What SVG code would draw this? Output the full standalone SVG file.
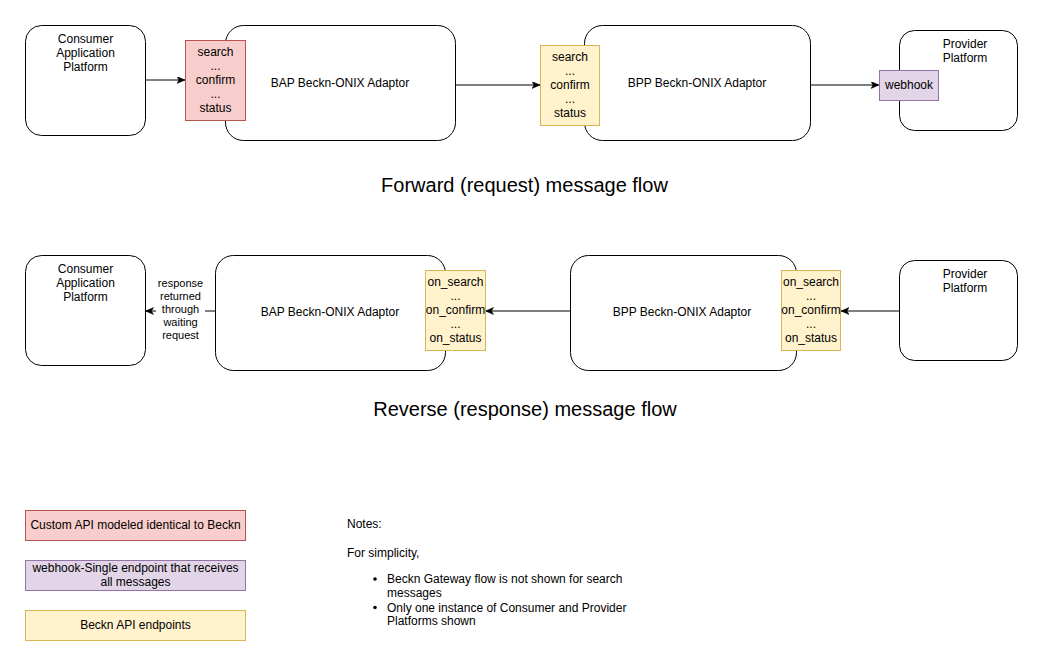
<svg xmlns="http://www.w3.org/2000/svg" width="1051" height="668" viewBox="0 0 1051 668">
<defs>
<style>
text{font-family:"Liberation Sans",Arial,Helvetica,sans-serif;fill:#000;}
.t12{font-size:12px;text-anchor:middle;}
.t11{font-size:11px;text-anchor:middle;}
.n12{font-size:12px;}
.title{font-size:20px;text-anchor:middle;}
.box{fill:#fff;stroke:#000;stroke-width:1;}
.red{fill:#f8cecc;stroke:#b85450;stroke-width:1;}
.purple{fill:#e1d5e7;stroke:#9673a6;stroke-width:1;}
.yellow{fill:#fff2cc;stroke:#d6b656;stroke-width:1;}
.edge{fill:none;stroke:#000;stroke-width:1;marker-end:url(#arrow);}
</style>
<marker id="arrow" markerUnits="userSpaceOnUse" markerWidth="10" markerHeight="8" refX="8" refY="3.5" orient="auto">
<path d="M0,0 L8,3.5 L0,7 L2,3.5 z" fill="#000" stroke="#000" stroke-width="0.5"/>
</marker>
</defs>
<rect width="1051" height="668" fill="#fff"/>

<g id="connectors">
<path class="edge" d="M145.5,80 L185,80"/>
<path class="edge" d="M455.5,85 L540,85"/>
<path class="edge" d="M811,85 L879,85"/>
<path class="edge" d="M215,311 L145.5,311"/>
<path class="edge" d="M570,311 L485.5,311"/>
<path class="edge" d="M899.5,311 L841,311"/>
</g>

<!-- Forward flow -->
<g id="consumer-top">
<rect class="box" x="25.5" y="25.5" width="120" height="110" rx="16" ry="16"/>
<text class="t12" x="85.5" y="43">Consumer</text>
<text class="t12" x="85.5" y="57">Application</text>
<text class="t12" x="85.5" y="71">Platform</text>
</g>
<g id="bap-top">
<rect class="box" x="225.5" y="25.5" width="230" height="115" rx="18" ry="18"/>
<text class="t12" x="340" y="87">BAP Beckn-ONIX Adaptor</text>
</g>
<g id="bap-endpoints-top">
<rect class="red" x="185.5" y="40.5" width="60" height="80"/>
<text class="t12" x="215.5" y="56">search</text>
<text class="t12" x="215.5" y="70">...</text>
<text class="t12" x="215.5" y="84">confirm</text>
<text class="t12" x="215.5" y="98">...</text>
<text class="t12" x="215.5" y="112">status</text>
</g>
<g id="bpp-top">
<rect class="box" x="584.5" y="25.5" width="226" height="115" rx="18" ry="18"/>
<text class="t12" x="697" y="87">BPP Beckn-ONIX Adaptor</text>
</g>
<g id="bpp-endpoints-top">
<rect class="yellow" x="540.5" y="45.5" width="59" height="80"/>
<text class="t12" x="570" y="61">search</text>
<text class="t12" x="570" y="75">...</text>
<text class="t12" x="570" y="89">confirm</text>
<text class="t12" x="570" y="103">...</text>
<text class="t12" x="570" y="117">status</text>
</g>
<g id="provider-top">
<rect class="box" x="899.5" y="30.5" width="118" height="100" rx="15" ry="15"/>
<text class="t12" x="965" y="48">Provider</text>
<text class="t12" x="965" y="62">Platform</text>
</g>
<g id="webhook">
<rect class="purple" x="879.5" y="70.5" width="59" height="30"/>
<text class="t12" x="909" y="89">webhook</text>
</g>
<g id="title-forward">
<text class="title" x="524.5" y="192">Forward (request) message flow</text>
</g>

<!-- Reverse flow -->
<g id="consumer-bottom">
<rect class="box" x="25.5" y="255.5" width="120" height="110" rx="16" ry="16"/>
<text class="t12" x="85.5" y="273">Consumer</text>
<text class="t12" x="85.5" y="287">Application</text>
<text class="t12" x="85.5" y="301">Platform</text>
</g>
<g id="response-label">
<rect x="156" y="277" width="49" height="66" fill="#fff"/>
<text class="t11" x="180.5" y="287">response</text>
<text class="t11" x="180.5" y="300">returned</text>
<text class="t11" x="180.5" y="313">through</text>
<text class="t11" x="180.5" y="326">waiting</text>
<text class="t11" x="180.5" y="339">request</text>
</g>
<g id="bap-bottom">
<rect class="box" x="215.5" y="255.5" width="230" height="115" rx="18" ry="18"/>
<text class="t12" x="330" y="316">BAP Beckn-ONIX Adaptor</text>
</g>
<g id="bap-endpoints-bottom">
<rect class="yellow" x="425.5" y="270.5" width="60" height="80"/>
<text class="t12" x="455.5" y="286">on_search</text>
<text class="t12" x="455.5" y="300">...</text>
<text class="t12" x="455.5" y="314">on_confirm</text>
<text class="t12" x="455.5" y="328">...</text>
<text class="t12" x="455.5" y="342">on_status</text>
</g>
<g id="bpp-bottom">
<rect class="box" x="570.5" y="255.5" width="226" height="115" rx="18" ry="18"/>
<text class="t12" x="682" y="316">BPP Beckn-ONIX Adaptor</text>
</g>
<g id="bpp-endpoints-bottom">
<rect class="yellow" x="781.5" y="270.5" width="59" height="80"/>
<text class="t12" x="811" y="286">on_search</text>
<text class="t12" x="811" y="300">...</text>
<text class="t12" x="811" y="314">on_confirm</text>
<text class="t12" x="811" y="328">...</text>
<text class="t12" x="811" y="342">on_status</text>
</g>
<g id="provider-bottom">
<rect class="box" x="899.5" y="260.5" width="118" height="100" rx="15" ry="15"/>
<text class="t12" x="965" y="278">Provider</text>
<text class="t12" x="965" y="292">Platform</text>
</g>
<g id="title-reverse">
<text class="title" x="525" y="416">Reverse (response) message flow</text>
</g>

<!-- Legend -->
<g id="legend-red">
<rect class="red" x="25.5" y="510.5" width="220" height="30"/>
<text class="t12" x="135.5" y="529">Custom API modeled identical to Beckn</text>
</g>
<g id="legend-purple">
<rect class="purple" x="25.5" y="560.5" width="220" height="30"/>
<text class="t12" x="135.5" y="572">webhook-Single endpoint that receives</text>
<text class="t12" x="135.5" y="586">all messages</text>
</g>
<g id="legend-yellow">
<rect class="yellow" x="25.5" y="610.5" width="220" height="30"/>
<text class="t12" x="135.5" y="629">Beckn API endpoints</text>
</g>

<g id="notes">
<text class="n12" x="347" y="528">Notes:</text>
<text class="n12" x="347" y="557">For simplicity,</text>
<circle cx="375" cy="579" r="1.8" fill="#000"/>
<text class="n12" x="387" y="583">Beckn Gateway flow is not shown for search</text>
<text class="n12" x="387" y="597">messages</text>
<circle cx="375" cy="607.5" r="1.8" fill="#000"/>
<text class="n12" x="387" y="611.5">Only one instance of Consumer and Provider</text>
<text class="n12" x="387" y="625">Platforms shown</text>
</g>
</svg>
